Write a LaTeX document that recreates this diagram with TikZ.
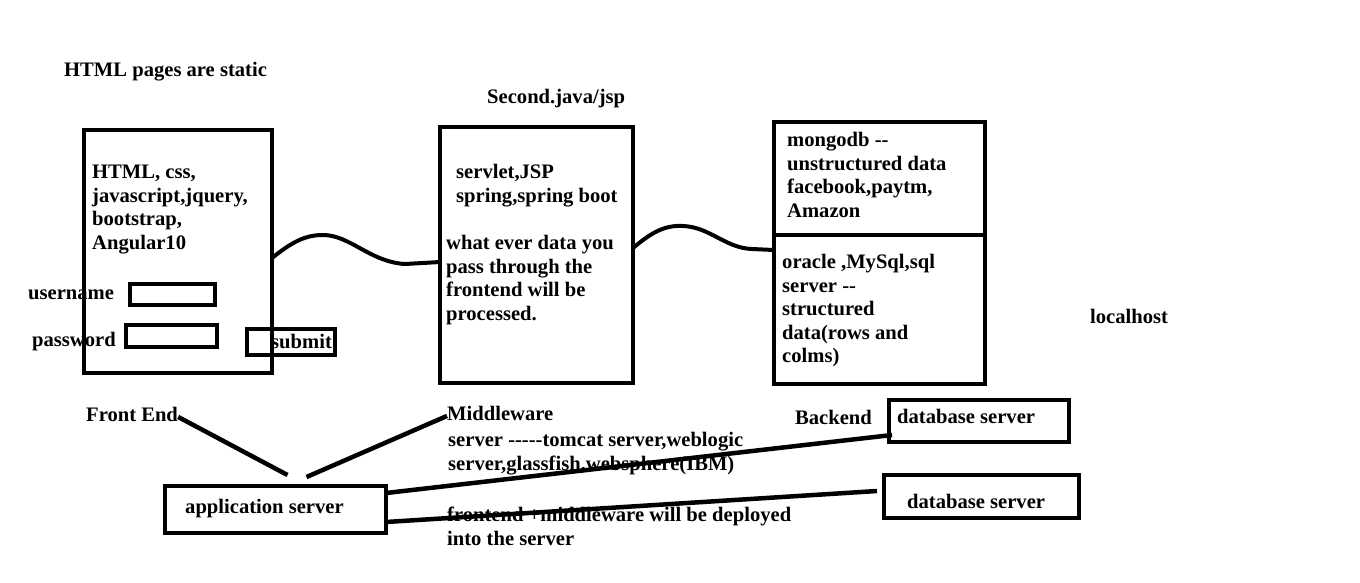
\documentclass[tikz,border=0pt]{standalone}
\usepackage{fontspec}
\setmainfont{Liberation Serif}
\usetikzlibrary{calc}

\begin{document}
\begin{tikzpicture}[x=1pt,y=-1pt,%
    box/.style={
      draw,
      line width=4pt,
      anchor=north west,
      inner sep=0,
      outer sep=0
    },
    txt/.style={
      anchor=north west,
      inner sep=0,
      align=left,
      font=\fontsize{20.6}{23.5}\bfseries\selectfont
    },
    wire/.style={line width=4pt},
    link/.style={line width=4.5pt}]
    \useasboundingbox (0,0) rectangle (1360,582);

    % boxes
    \node[box,minimum width=188,minimum height=243] at (84,130) (front) {};
    \node[box,minimum width=85,minimum height=21]   at (130,284) (user) {};
    \node[box,minimum width=91,minimum height=22]   at (126,325) (pass) {};
    \node[box,minimum width=88,minimum height=26]   at (247,329) (submit) {};
    \node[box,minimum width=193,minimum height=256] at (440,127) (middle) {};
    \node[box,minimum width=211,minimum height=113] at (774,122) (mongo) {};
    \node[box,minimum width=211,minimum height=149] at (774,235) (oracle) {};
    \node[box,minimum width=221,minimum height=47]  at (165,486) (app) {};
    \node[box,minimum width=180,minimum height=42]  at (889,400) (db1) {};
    \node[box,minimum width=195,minimum height=43]  at (884,475) (db2) {};

    % texts
    \node[txt] at (64,60)   (static) {\strut HTML pages are static};
    \node[txt] at (487,87)  (second) {\strut Second.java/jsp};
    \node[txt] at (92,162)  (fronttxt) {\strut HTML, css,\\ javascript,jquery,\\ bootstrap,\\ Angular10};
    \node[txt] at (28,283)  (username) {\strut username};
    \node[txt] at (32,330)  (password) {\strut password};
    \node[txt] at (271,332) (submittxt) {\strut submit};
    \node[txt] at (456,162) (servlet) {\strut servlet,JSP\\ spring,spring boot};
    \node[txt] at (446,233) (whatever) {\strut what ever data you\\ pass through the\\ frontend will be\\ processed.};
    \node[txt] at (787,130) (mongotxt) {\strut mongodb {-}{-}\\ unstructured data\\ facebook,paytm,\\ Amazon};
    \node[txt] at (782,252) (oracletxt) {\strut oracle ,MySql,sql\\ server {-}{-}\\ structured\\ data(rows and\\ colms)};
    \node[txt] at (1090,307) (localhost) {\strut localhost};
    \node[txt] at (86,405)  (fe) {\strut Front End};
    \node[txt] at (447,404) (mw) {\strut Middleware};
    \node[txt] at (448,430) (servers) {\strut server {-}{-}{-}{-}{-}tomcat server,weblogic\\ server,glassfish,websphere(IBM)};
    \node[txt] at (795,408) (backend) {\strut Backend};
    \node[txt] at (897,407) (db1txt) {\strut database server};
    \node[txt] at (907,492) (db2txt) {\strut database server};
    \node[txt] at (185,497) (apptxt) {\strut application server};
    \node[txt] at (447,505) (deployed) {\strut frontend +middleware will be deployed\\ into the server};

    % wavy connectors
    \coordinate (w1a) at ($(front.north east)+(0,128)$);
    \coordinate (w1b) at ($(middle.north west)+(0,135)$);
    \coordinate (w2a) at ($(middle.north east)+(0,121)$);
    \coordinate (w2b) at ($(oracle.north west)+(0,15)$);
    \draw[wire] (w1a) .. controls (292,242) and (305,235) .. (323,235)
        .. controls (350,235) and (370,262) .. (405,264) -- (w1b);
    \draw[wire] (w2a) .. controls (652,232) and (665,225) .. (683,226)
        .. controls (710,227) and (725,248) .. (752,249) -- (w2b);

    % lines to the servers
    \coordinate (feend) at ($(app.north)+(12,-11)$);
    \coordinate (mwend) at ($(app.north)+(31,-9)$);
    \coordinate (db2end) at ($(db2.north west)+(-7,16)$);
    \path[draw,link]
        (fe.east) -- (feend)
        (mw.west) -- (mwend)
        ($(app.north east)+(0,7)$) -- ($(db1.south west)+(3,-7)$)
        ($(app.north east)+(0,36)$) -- (db2end)
        ;
\end{tikzpicture}
\end{document}
